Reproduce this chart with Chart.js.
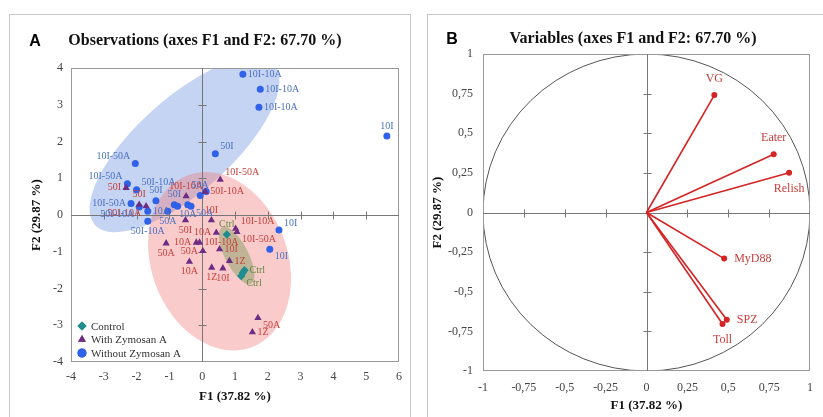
<!DOCTYPE html>
<html>
<head>
<meta charset="utf-8">
<script src="https://cdn.jsdelivr.net/npm/chart.js@4.4.0/dist/chart.umd.min.js"></script>
<style>
  body { margin: 0; background: #fff; width: 823px; height: 417px; overflow: hidden; position: relative; }
  .panel { position: absolute; border: 1px solid #c8c8c8; }
  #pa { left: 9px; top: 14px; width: 400px; height: 420px; }
  #pb { left: 427px; top: 14px; width: 420px; height: 420px; }
  .txt { position: absolute; transform: translate(-50%, -50%); white-space: nowrap; line-height: 1; }
  .tag { font: bold 16px 'Liberation Sans', Arial, sans-serif; color: #000; }
  .ttl { font: bold 16px 'Liberation Serif', serif; color: #111; }
  canvas { position: absolute; top: 0; }
</style>
</head>
<body>
<div class="panel" id="pa"></div>
<div class="panel" id="pb"></div>
<canvas id="chartA" width="420" height="417" style="left:0"></canvas>
<canvas id="chartB" width="403" height="417" style="left:420px"></canvas>
<div class="txt tag" style="left:35px;top:41px">A</div>
<div class="txt ttl" style="left:205px;top:40px">Observations (axes F1 and F2: 67.70 %)</div>
<div class="txt tag" style="left:452px;top:39px">B</div>
<div class="txt ttl" style="left:633px;top:38px">Variables (axes F1 and F2: 67.70 %)</div>

<script>
// panel A : observations
const ctrlX = [0.75, 1.29, 1.24, 1.19];
const ctrlY = [-0.53, -1.50, -1.57, -1.66];
const ctrlNames = ['Ctrl', 'Ctrl', '', 'Ctrl'];
const ctrlPos = ['t', 'r', '', 'br'];

const withX = [0.55, 0.09, -0.49, -2.32, -1.92, -1.71, -0.51, 0.28, 0.43, -0.18, -0.08, 0.02, -0.39, -1.10, 0.53, 0.83, 0.29, 0.63, 1.06, 1.02, 1.70, 1.53];
const withY = [0.96, 0.63, 0.51, 0.74, 0.28, 0.24, -0.14, -0.14, -0.48, -0.75, -0.75, -0.98, -1.27, -0.77, -0.93, -1.25, -1.43, -1.45, -0.46, -0.37, -2.80, -3.19];
const withNames = ['10I-50A', '50I-10A', '10I-10A', '50I', '50I', '50I-10A', '50I', '10I', '10A', '10A', '10I-10A', '50A', '10A', '50A', '10I', '1Z', '1Z', '10I', '10I-50A', '10I-10A', '50A', '1Z'];
const withPos = ['tr', 'r', 't', 'l', 't', 'bl', 'b', 't', 'l', 'l', 'r', 'l', 'b', 'b', 'r', 'r', 'b', 'b', 'br', 'tr', 'br', 'r'];

const withoutX = [1.24, 1.77, 1.73, 5.63, 0.40, -2.04, -2.28, -2.00, -2.17, -1.92, -1.66, -1.41, -1.05, -1.66, -0.85, -0.75, -0.44, -0.34, -0.06, 0.12, 2.34, 2.06];
const withoutY = [3.83, 3.42, 2.93, 2.15, 1.67, 1.40, 0.85, 0.69, 0.31, 0.22, 0.10, 0.39, 0.10, -0.17, 0.28, 0.24, 0.28, 0.24, 0.53, 0.64, -0.41, -0.93];
const withoutNames = ['10I-10A', '10I-10A', '10I-10A', '10I', '50I', '10I-50A', '10I-50A', '50I-10A', '10I-50A', '50I-10A', '10A', '50I', '50A', '50I-10A', '50I', '', '10A', '50A', '50A', '', '10I', '10I'];
const withoutPos = ['r', 'r', 'r', 't', 'tr', 'tl', 'tl', 'tr', 'l', 'bl', 'r', 't', 'b', 'b', 't', '', 'b', 'br', 't', '', 'tr', 'br'];

// confidence ellipses: centre x, centre y, then two half-axis vectors (data units)
const ellipseWithout = [-0.54, 1.91, 2.73, 2.18, 0.96, -0.95];
const ellipseWith = [0.53, -1.26, 0.963, -2.344, 1.954, 0.631];
const ellipseCtrl = [1.05, -1.10, 0.44, -0.77, 0.32, 0.14];

const groupNames = ['Control', 'With Zymosan A', 'Without Zymosan A'];

// panel B : variables
const varNames = ['VG', 'Eater', 'Relish', 'MyD88', 'SPZ', 'Toll'];
const varF1 = [0.415, 0.778, 0.872, 0.475, 0.491, 0.465];
const varF2 = [0.741, 0.367, 0.251, -0.291, -0.676, -0.703];
const varPos = ['t', 't', 'b', 'r', 'r', 'b'];
const unitCircle = [0, 0, 1, 0, 0, 1];

Chart.defaults.font.family = "'Liberation Serif', 'Times New Roman', serif";
Chart.defaults.color = '#444';

function toPoints(xs, ys) {
  return xs.map((x, i) => ({ x: x, y: ys[i] }));
}

// ellipses, plot frame and zero axes with tick marks
function makeFrameAxes(ellipses) {
  return {
    id: 'frameAxes',
    beforeDatasetsDraw(chart) {
      const { ctx, chartArea: a, scales: { x, y } } = chart;
      ctx.save();
      ctx.beginPath();
      ctx.rect(a.left, a.top, a.width, a.height);
      ctx.clip();
      ellipses.forEach(e => {
        const p = e.par;
        const cx = x.getPixelForValue(p[0]), cy = y.getPixelForValue(p[1]);
        const ux = x.getPixelForValue(p[0] + p[2]) - cx, uy = y.getPixelForValue(p[1] + p[3]) - cy;
        const vx = x.getPixelForValue(p[0] + p[4]) - cx, vy = y.getPixelForValue(p[1] + p[5]) - cy;
        ctx.save();
        ctx.transform(ux, uy, vx, vy, cx, cy);
        ctx.beginPath();
        ctx.arc(0, 0, 1, 0, Math.PI * 2);
        ctx.restore();
        if (e.fill) { ctx.fillStyle = e.fill; ctx.fill(); }
        if (e.stroke) { ctx.strokeStyle = e.stroke; ctx.lineWidth = 1; ctx.stroke(); }
      });
      ctx.restore();

      ctx.save();
      ctx.strokeStyle = '#999';
      ctx.lineWidth = 1;
      ctx.strokeRect(Math.round(a.left) + 0.5, Math.round(a.top) + 0.5, Math.round(a.width) - 1, Math.round(a.height) - 1);
      ctx.strokeStyle = '#777';
      const x0 = Math.round(x.getPixelForValue(0)) + 0.5;
      const y0 = Math.round(y.getPixelForValue(0)) + 0.5;
      ctx.beginPath();
      ctx.moveTo(x0, a.top); ctx.lineTo(x0, a.bottom);
      ctx.moveTo(a.left, y0); ctx.lineTo(a.right, y0);
      x.ticks.forEach(t => {
        if (t.value === x.min || t.value === x.max) return;
        const px = Math.round(x.getPixelForValue(t.value)) + 0.5;
        ctx.moveTo(px, y0 - 4); ctx.lineTo(px, y0 + 4);
      });
      y.ticks.forEach(t => {
        if (t.value === y.min || t.value === y.max) return;
        const py = Math.round(y.getPixelForValue(t.value)) + 0.5;
        ctx.moveTo(x0 - 4, py); ctx.lineTo(x0 + 4, py);
      });
      ctx.stroke();
      ctx.restore();
    }
  };
}

// text label next to each point
function makePointText(gap, size) {
  return {
    id: 'pointText',
    afterDatasetsDraw(chart) {
      const ctx = chart.ctx;
      ctx.save();
      ctx.font = size + "px 'Liberation Serif', serif";
      chart.data.datasets.forEach((ds, i) => {
        if (!ds.names) return;
        const meta = chart.getDatasetMeta(i);
        ctx.fillStyle = ds.labelColor;
        meta.data.forEach((el, j) => {
          const name = ds.names[j];
          if (!name) return;
          const pos = ds.pos[j];
          let tx = el.x, ty = el.y;
          ctx.textAlign = 'center';
          ctx.textBaseline = 'middle';
          if (pos.includes('r')) { ctx.textAlign = 'left'; tx += gap; }
          if (pos.includes('l')) { ctx.textAlign = 'right'; tx -= gap; }
          if (pos.includes('t')) { ctx.textBaseline = 'bottom'; ty -= (pos.length > 1 ? 2 : gap); }
          if (pos.includes('b')) { ctx.textBaseline = 'top'; ty += (pos.length > 1 ? 2 : gap); }
          ctx.fillText(name, tx, ty);
        });
      });
      ctx.restore();
    }
  };
}

// legend inside the plot, lower left
const innerLegend = {
  id: 'innerLegend',
  afterDraw(chart) {
    const { ctx, chartArea: a } = chart;
    ctx.save();
    ctx.font = "11px 'Liberation Serif', serif";
    ctx.textBaseline = 'middle';
    ctx.textAlign = 'left';
    chart.data.datasets.forEach((ds, k) => {
      const yy = a.bottom - 36 + k * 13.5;
      ctx.fillStyle = ds.backgroundColor;
      ctx.beginPath();
      Chart.helpers.drawPoint(ctx, { pointStyle: ds.pointStyle, radius: 4.5, borderWidth: 0 }, a.left + 11, yy);
      ctx.fill();
      ctx.fillStyle = '#333';
      ctx.fillText(groupNames[k], a.left + 20, yy + 1);
    });
    ctx.restore();
  }
};

const chartA = new Chart(document.getElementById('chartA').getContext('2d'), {
  type: 'scatter',
  data: {
    datasets: [
      {
        label: groupNames[0],
        data: toPoints(ctrlX, ctrlY),
        pointStyle: 'rectRot', pointRadius: 4.2,
        backgroundColor: '#1f8c8f', borderColor: '#1f8c8f', borderWidth: 0,
        names: ctrlNames, pos: ctrlPos, labelColor: '#5d8a3a'
      },
      {
        label: groupNames[1],
        data: toPoints(withX, withY),
        pointStyle: 'triangle', pointRadius: 4.2,
        backgroundColor: '#6e2c82', borderColor: '#6e2c82', borderWidth: 0,
        names: withNames, pos: withPos, labelColor: '#c8403c'
      },
      {
        label: groupNames[2],
        data: toPoints(withoutX, withoutY),
        pointStyle: 'circle', pointRadius: 3.5,
        backgroundColor: '#2f62e8', borderColor: '#2f62e8', borderWidth: 0,
        names: withoutNames, pos: withoutPos, labelColor: '#4a70c4'
      }
    ]
  },
  options: {
    responsive: false,
    animation: false,
    devicePixelRatio: 1,
    layout: { padding: { left: 0, top: 68, right: 21, bottom: 0 } },
    plugins: { legend: { display: false }, tooltip: { enabled: false } },
    scales: {
      x: {
        type: 'linear', min: -4, max: 6,
        ticks: { stepSize: 1, padding: 8, font: { size: 12 }, maxRotation: 0 },
        grid: { display: false, drawTicks: false },
        border: { display: false },
        title: { display: true, text: 'F1 (37.82 %)', color: '#111', font: { size: 13, weight: 'bold' }, padding: { top: 0, bottom: 13 } },
        afterFit(s) { s.height = 55; }
      },
      y: {
        type: 'linear', min: -4, max: 4,
        ticks: { stepSize: 1, padding: 8, font: { size: 12 } },
        grid: { display: false, drawTicks: false },
        border: { display: false },
        title: { display: true, text: 'F2 (29.87 %)', color: '#111', font: { size: 13, weight: 'bold' }, padding: { top: 29, bottom: 0 } },
        afterFit(s) { s.width = 71; }
      }
    }
  },
  plugins: [
    makeFrameAxes([
      { par: ellipseWithout, fill: 'rgba(95,135,220,0.36)' },
      { par: ellipseWith, fill: 'rgba(242,110,110,0.36)' },
      { par: ellipseCtrl, fill: 'rgba(120,150,85,0.45)' }
    ]),
    makePointText(5, 10),
    innerLegend
  ]
});

const commaTick = v => String(v).replace('.', ',');

const chartB = new Chart(document.getElementById('chartB').getContext('2d'), {
  type: 'scatter',
  data: {
    datasets: varNames.map((name, i) => ({
      label: name,
      data: [{ x: 0, y: 0 }, { x: varF1[i], y: varF2[i] }],
      showLine: true, fill: false,
      borderColor: '#d42424', borderWidth: 1.6,
      pointRadius: [0, 3], pointBackgroundColor: '#d42424', pointBorderWidth: 0,
      names: ['', name], pos: ['', varPos[i]], labelColor: '#c8403c'
    }))
  },
  options: {
    responsive: false,
    animation: false,
    devicePixelRatio: 1,
    layout: { padding: { left: 0, top: 54, right: 6, bottom: 0 } },
    plugins: { legend: { display: false }, tooltip: { enabled: false } },
    scales: {
      x: {
        type: 'linear', min: -1, max: 1,
        ticks: { stepSize: 0.25, padding: 10, font: { size: 12 }, maxRotation: 0, callback: commaTick },
        grid: { display: false, drawTicks: false },
        border: { display: false },
        title: { display: true, text: 'F1 (37.82 %)', color: '#111', font: { size: 13, weight: 'bold' }, padding: { top: 0, bottom: 4 } },
        afterFit(s) { s.height = 46; }
      },
      y: {
        type: 'linear', min: -1, max: 1,
        ticks: { stepSize: 0.25, padding: 10, font: { size: 12 }, callback: commaTick },
        grid: { display: false, drawTicks: false },
        border: { display: false },
        title: { display: true, text: 'F2 (29.87 %)', color: '#111', font: { size: 13, weight: 'bold' }, padding: { top: 10, bottom: 0 } },
        afterFit(s) { s.width = 63; }
      }
    }
  },
  plugins: [
    makeFrameAxes([{ par: unitCircle, stroke: '#555' }]),
    makePointText(10, 12)
  ]
});
</script>
</body>
</html>
